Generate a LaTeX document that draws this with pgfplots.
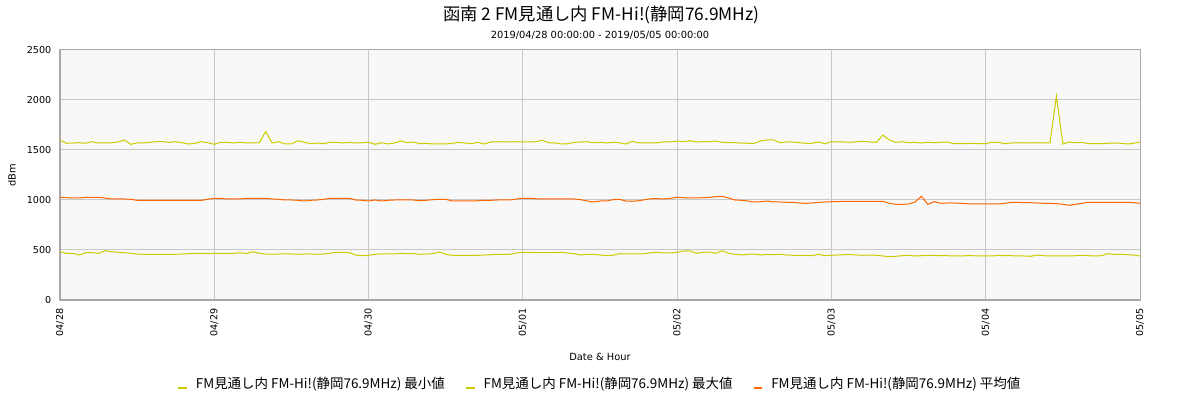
\documentclass[border=0pt]{standalone}
\usepackage{pgfplots}
\pgfplotsset{compat=1.18}
\usepackage{pgfplotstable}
\usepackage{fontspec}
\setmainfont{DejaVu Sans}
\newfontfamily\cjk{Noto Sans CJK JP}
\definecolor{ylw}{HTML}{CCCC00}
\definecolor{org}{HTML}{FF6600}
\definecolor{bgc}{HTML}{F8F8F8}
\definecolor{grd}{HTML}{C8C8C8}
\definecolor{brd}{HTML}{A8A8A8}
\pgfplotstableread{
h min max avg
0 483 1600 1027
1 467 1567 1023
2 467 1570 1020
3 450 1573 1020
4 473 1567 1027
5 473 1583 1027
6 467 1570 1027
7 493 1570 1020
8 483 1573 1010
9 477 1580 1010
10 473 1600 1010
11 467 1557 1007
12 460 1570 997
13 457 1570 997
14 457 1577 997
15 457 1583 997
16 457 1583 997
17 457 1577 997
18 457 1583 997
19 460 1573 997
20 463 1560 997
21 467 1567 997
22 467 1583 997
23 467 1573 1007
24 467 1557 1017
25 467 1577 1017
26 467 1577 1010
27 467 1570 1010
28 473 1577 1010
29 463 1570 1017
30 483 1570 1017
31 467 1573 1017
32 460 1685 1017
33 457 1570 1010
34 460 1583 1007
35 460 1560 1000
36 460 1560 1000
37 457 1593 997
38 460 1577 990
39 460 1563 997
40 457 1570 1000
41 460 1563 1007
42 467 1577 1017
43 477 1577 1017
44 477 1570 1017
45 473 1577 1017
46 450 1570 1000
47 443 1573 997
48 447 1577 990
49 457 1557 1000
50 460 1573 990
51 460 1560 997
52 460 1570 1000
53 467 1590 1000
54 463 1573 1000
55 463 1580 1000
56 457 1563 993
57 460 1567 997
58 463 1560 1003
59 480 1560 1007
60 457 1560 1007
61 447 1567 990
62 447 1577 990
63 447 1570 990
64 447 1563 990
65 447 1577 993
66 450 1560 997
67 453 1580 997
68 457 1580 1000
69 457 1583 1000
70 457 1580 1000
71 470 1583 1010
72 477 1580 1017
73 477 1580 1017
74 473 1583 1013
75 473 1597 1010
76 473 1573 1010
77 473 1570 1010
78 477 1560 1010
79 470 1563 1010
80 463 1577 1010
81 450 1580 1003
82 457 1583 990
83 457 1573 980
84 450 1577 990
85 443 1570 990
86 447 1577 1003
87 463 1573 1007
88 460 1560 990
89 460 1587 987
90 460 1570 993
91 463 1570 1003
92 473 1570 1013
93 477 1573 1013
94 470 1583 1010
95 470 1580 1017
96 477 1590 1027
97 490 1583 1023
98 490 1593 1020
99 467 1580 1020
100 477 1583 1023
101 480 1583 1027
102 467 1590 1033
103 493 1577 1037
104 467 1573 1020
105 457 1573 1000
106 450 1570 997
107 457 1567 990
108 460 1567 980
109 450 1590 983
110 457 1600 990
111 453 1600 980
112 457 1573 980
113 450 1580 977
114 447 1580 977
115 443 1573 970
116 447 1567 967
117 443 1567 970
118 457 1580 977
119 443 1563 980
120 447 1583 983
121 450 1580 983
122 453 1580 987
123 453 1577 987
124 450 1583 987
125 447 1587 987
126 450 1580 987
127 447 1577 987
128 440 1650 987
129 433 1600 967
130 437 1577 957
131 443 1583 957
132 447 1573 960
133 440 1577 980
134 443 1570 1037
135 447 1577 957
136 447 1573 983
137 443 1577 967
138 443 1580 970
139 440 1563 970
140 440 1567 967
141 443 1563 963
142 443 1567 960
143 440 1563 960
144 440 1563 960
145 440 1577 960
146 447 1577 960
147 443 1563 967
148 443 1570 977
149 440 1573 977
150 440 1570 973
151 437 1570 973
152 450 1573 970
153 443 1570 967
154 440 1570 967
155 440 2040 963
156 440 1560 957
157 440 1580 947
158 443 1573 957
159 447 1577 967
160 443 1563 977
161 440 1563 977
162 443 1563 977
163 463 1567 977
164 457 1570 977
165 457 1567 977
166 453 1560 977
167 450 1567 973
168 440 1580 967
}\data
\begin{document}
\begin{tikzpicture}
\path[use as bounding box] (0,0) rectangle (900pt,300pt);
\begin{axis}[
  at={(45pt,75pt)}, anchor=south west,
  width=810pt, height=187.5pt, scale only axis,
  xmin=0, xmax=168, ymin=0, ymax=2500,
  xtick={0,24,48,72,96,120,144,168},
  xticklabels={04/28,04/29,04/30,05/01,05/02,05/03,05/04,05/05},
  ytick={0,500,1000,1500,2000,2500},
  major tick length=0pt,
  grid=major,
  grid style={color=grd, line width=0.75pt},
  axis line style={color=brd, line width=0.75pt},
  axis background/.style={fill=bgc},
  /pgf/number format/assume math mode=true,
  /pgf/number format/set thousands separator={},
  tick label style={font=\fontsize{7.2pt}{8pt}\selectfont, text=black},
  xticklabel style={rotate=90, anchor=east, xshift=-3pt},
  yticklabel style={xshift=-3pt},
  legend columns=3,
  legend style={at={(0.5,-0.336)}, anchor=center, draw=none, fill=none,
    font=\cjk\fontsize{10.1pt}{12pt}\selectfont,
    /tikz/every odd column/.append style={column sep=4pt},
    /tikz/every even column/.append style={column sep=13pt}},
  legend image code/.code={\draw[line width=1.6pt] (0pt,-3pt) -- (6.5pt,-3pt);},
]
\addplot[color=ylw, line width=0.75pt] table[x=h, y=min] {\data};
\addlegendentry{FM見通し内 FM-Hi!(静岡76.9MHz) 最小値}
\addplot[color=ylw, line width=0.75pt] table[x=h, y=max] {\data};
\addlegendentry{FM見通し内 FM-Hi!(静岡76.9MHz) 最大値}
\addplot[color=org, line width=0.75pt] table[x=h, y=avg] {\data};
\addlegendentry{FM見通し内 FM-Hi!(静岡76.9MHz) 平均値}
\end{axis}
\node at (451pt,288.5pt) {\cjk\fontsize{13pt}{15pt}\selectfont 函南 2 FM見通し内 FM-Hi!(静岡76.9MHz)};
\node at (450pt,273.5pt) {\fontsize{7.4pt}{9pt}\selectfont 2019/04/28 00:00:00 - 2019/05/05 00:00:00};
\node[rotate=90] at (9pt,168.75pt) {\fontsize{7.4pt}{9pt}\selectfont dBm};
\node at (450pt,32.25pt) {\fontsize{7.4pt}{9pt}\selectfont Date \& Hour};
\end{tikzpicture}
\end{document}
